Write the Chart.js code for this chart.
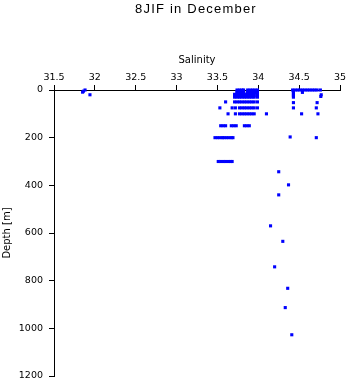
<!DOCTYPE html>
<html>
<head>
<meta charset="utf-8">
<script src="https://cdn.jsdelivr.net/npm/chart.js@4"></script>
<style>
  html, body { margin: 0; padding: 0; background: #fff; }
  #wrap { width: 348px; height: 384px; }
</style>
</head>
<body>
<div id="wrap"><canvas id="chart"></canvas></div>
<script>
const chartTitle = "8JIF in December";
const xTitle = "Salinity";
const yTitle = "Depth [m]";

// depth levels (m) where many casts overlap, with the salinities seen on each
const levels = [0, 6, 12, 18, 24, 30, 50, 75, 100, 150, 200, 300];
const levelSalinity = [
  [33.74, 33.77, 33.80, 33.82, 33.87, 33.90, 33.93, 33.96, 33.99,
   34.42, 34.45, 34.48, 34.51, 34.54, 34.57, 34.60, 34.63, 34.66, 34.69, 34.72, 34.76],
  [33.74, 33.77, 33.80, 33.82, 33.87, 33.90, 33.93, 33.96, 33.99],
  [33.74, 33.77, 33.80, 33.82, 33.87, 33.90, 33.93, 33.96, 33.99],
  [33.71, 33.74, 33.77, 33.80, 33.83, 33.86, 33.89, 33.92, 33.95, 33.99],
  [33.71, 33.74, 33.77, 33.80, 33.83, 33.86, 33.89, 33.92, 33.95, 33.99],
  [33.71, 33.74, 33.77, 33.80, 33.83, 33.86, 33.89, 33.92, 33.95, 33.99],
  [33.60, 33.71, 33.74, 33.77, 33.80, 33.83, 33.86, 33.89, 33.92, 33.95, 33.99],
  [33.53, 33.68, 33.72, 33.77, 33.80, 33.83, 33.86, 33.89, 33.92, 33.95, 33.99],
  [33.63, 33.72, 33.77, 33.80, 33.83, 33.86, 33.89, 33.92, 33.95, 34.10],
  [33.54, 33.57, 33.60, 33.67, 33.70, 33.73, 33.83, 33.86, 33.89],
  [33.47, 33.50, 33.53, 33.56, 33.58, 33.61, 33.64, 33.67, 33.69],
  [33.51, 33.54, 33.57, 33.60, 33.63, 33.66, 33.68]
];

// single observations
const pointSalinity = [31.88, 31.86, 31.85, 31.94,
  34.43, 34.43, 34.43, 34.43, 34.43, 34.54, 34.77, 34.765,
  34.43, 34.72, 34.43, 34.71, 34.53, 34.73, 34.39, 34.71,
  34.25, 34.37, 34.25, 34.15, 34.30, 34.20, 34.36, 34.33, 34.41];
const pointDepth = [0, 5, 9, 20,
  6, 12, 18, 24, 30, 10, 20, 27,
  53, 53, 75, 75, 100, 100, 197, 200,
  343, 398, 440, 570, 635, 742, 832, 913, 1027];

const points = [];
levels.forEach((d, i) => {
  levelSalinity[i].forEach(s => points.push({ x: s, y: d }));
});
pointSalinity.forEach((s, i) => points.push({ x: s, y: pointDepth[i] }));

const tickFont = { family: "DejaVu Sans", size: 9.5 };
const titleFont = { family: "DejaVu Sans", size: 10 };

const topTitle = {
  id: "topTitle",
  afterDraw(chart) {
    const ctx = chart.ctx;
    const a = chart.chartArea;
    ctx.save();
    ctx.font = '13px "Liberation Sans"';
    ctx.letterSpacing = "1.2px";
    ctx.fillStyle = "#000";
    ctx.textAlign = "center";
    ctx.textBaseline = "middle";
    ctx.fillText(chartTitle, (a.left + a.right) / 2 - 1, 9);
    ctx.restore();
  }
};

new Chart(document.getElementById("chart"), {
  type: "scatter",
  data: {
    datasets: [{
      data: points,
      pointStyle: "rect",
      pointRadius: 2.2,
      pointHoverRadius: 2.2,
      borderWidth: 0,
      backgroundColor: "#0000ff",
      clip: false
    }]
  },
  options: {
    responsive: true,
    maintainAspectRatio: false,
    animation: false,
    layout: { padding: { top: 52, left: 0, right: 8, bottom: 8 } },
    plugins: {
      legend: { display: false },
      tooltip: { enabled: false }
    },
    scales: {
      x: {
        type: "linear",
        position: "top",
        min: 31.5,
        max: 35,
        ticks: { stepSize: 0.5, color: "#000", font: tickFont, padding: 2, callback: v => String(v) },
        grid: { drawOnChartArea: false, tickLength: 5, color: "#000" },
        border: { color: "#000" },
        title: { display: true, text: xTitle, color: "#000", font: titleFont, padding: { top: 2, bottom: 0 } },
        afterFit(s) { s.height = 38; s.paddingLeft = 0; s.paddingRight = 0; }
      },
      y: {
        type: "linear",
        reverse: true,
        min: 0,
        max: 1200,
        ticks: { stepSize: 200, color: "#000", font: tickFont, padding: 6, callback: v => String(v) },
        grid: { drawOnChartArea: false, tickLength: 5, color: "#000" },
        border: { color: "#000" },
        title: { display: true, text: yTitle, color: "#000", font: titleFont, padding: { top: 1, bottom: 0 } },
        afterFit(s) { s.width = 54; s.paddingTop = 0; s.paddingBottom = 0; }
      }
    }
  },
  plugins: [topTitle]
});
</script>
</body>
</html>
